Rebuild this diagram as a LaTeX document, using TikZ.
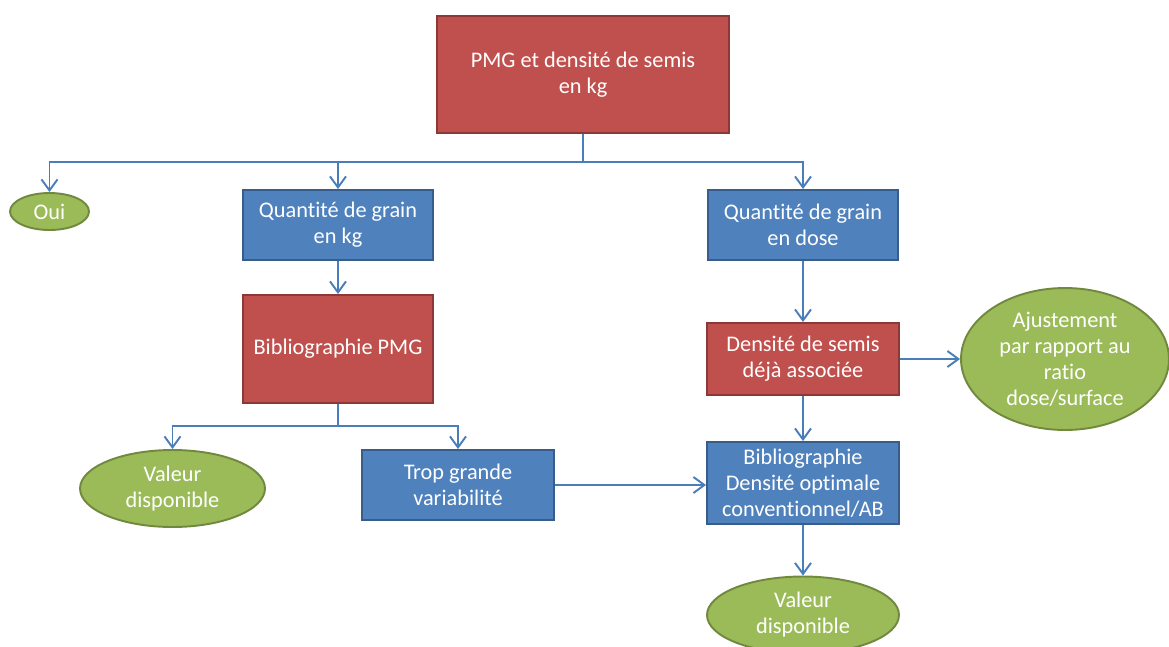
\documentclass[tikz,border=0pt]{standalone}
\usepackage{fontspec}
\setmainfont{Carlito}[Ligatures=NoCommon]
\usepackage{xcolor}
\usepackage{tikz}
\usetikzlibrary{arrows.meta, positioning, shapes.geometric}

\definecolor{redfill}{HTML}{C0504D}
\definecolor{redline}{HTML}{8C3836}
\definecolor{bluefill}{HTML}{4F81BD}
\definecolor{blueline}{HTML}{385D8A}
\definecolor{greenfill}{HTML}{9BBB59}
\definecolor{greenline}{HTML}{71893F}
\definecolor{linkcol}{HTML}{4A7EBB}

\begin{document}
\begin{tikzpicture}[
    x=0.02cm, y=-0.02cm,
    every node/.style={font=\fontsize{12.7}{14.8}\selectfont, text=white, align=center, inner sep=0pt},
    redbox/.style={rectangle, draw=redline, fill=redfill, line width=1.1pt},
    bluebox/.style={rectangle, draw=blueline, fill=bluefill, line width=1.1pt, minimum width=3.8cm, minimum height=1.4cm},
    oval/.style={ellipse, draw=greenline, fill=greenfill, line width=1.1pt},
    arrow/.style={-{Straight Barb[length=2.2mm, width=3.2mm]}, draw=linkcol, line width=1.1pt}
]
\useasboundingbox (0,0) rectangle (1169,646);

% Nodes
\node[redbox, minimum width=5.84cm, minimum height=2.34cm] (pmg) at (583,74.5) {PMG et densité de semis\\en kg};
\node[oval, minimum width=1.58cm, minimum height=0.74cm] (oui) at (49.5,211.5) {Oui};
\node[bluebox] (qkg) at (338,225) {Quantité de grain\\en kg};
\node[bluebox] (qdose) at (803,225) {Quantité de grain\\en dose};
\node[redbox, minimum width=3.8cm, minimum height=2.16cm] (biblio) at (338,349) {Bibliographie PMG};
\node[redbox, minimum width=3.84cm, minimum height=1.44cm] (densite) at (803,359) {Densité de semis\\déjà associée};
\node[oval, minimum width=4.16cm, minimum height=2.84cm] (ajust) at (1065,359) {Ajustement\\par rapport au\\ratio\\dose/surface};
\node[oval, minimum width=3.7cm, minimum height=1.54cm] (valeur1) at (172.5,488.5) {Valeur\\disponible};
\node[bluebox, minimum width=3.84cm] (trop) at (458,485) {Trop grande\\variabilité};
\node[bluebox, minimum width=3.84cm, minimum height=1.64cm] (optimale) at (803,483) {Bibliographie\\Densité optimale\\conventionnel/AB};
\node[oval, minimum width=3.84cm, minimum height=1.54cm] (valeur2) at (803,615) {Valeur\\disponible};

% Arrows
\coordinate (fork1) at (583,162);
\coordinate (fork2) at (338,426);
\draw[arrow] (pmg) -- (fork1) -| (oui);
\draw[arrow] (fork1) -| (qkg);
\draw[arrow] (fork1) -| (qdose);
\draw[arrow] (qkg) -- (biblio);
\draw[arrow] (biblio) -- (fork2) -| (valeur1);
\draw[arrow] (fork2) -| (trop);
\draw[arrow] (trop.east) -- (optimale.west |- trop.east);
\draw[arrow] (qdose) -- (densite);
\draw[arrow] (densite) -- (ajust);
\draw[arrow] (densite) -- (optimale);
\draw[arrow] (optimale) -- (valeur2);

\end{tikzpicture}
\end{document}
